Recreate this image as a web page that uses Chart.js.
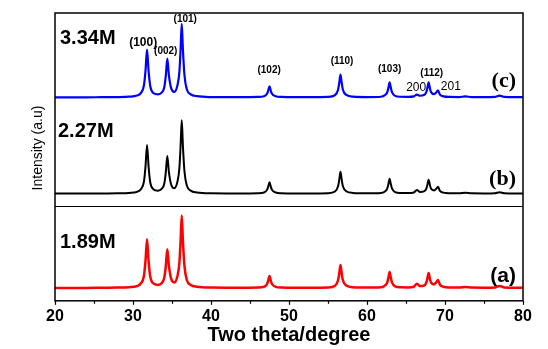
<!DOCTYPE html>
<html>
<head>
<meta charset="utf-8">
<script src="https://cdn.jsdelivr.net/npm/chart.js@4/dist/chart.umd.min.js"></script>
<style>
  html, body { margin: 0; padding: 0; background: #fff; }
  #wrap { width: 548px; height: 349px; position: relative; }
</style>
</head>
<body>
<div id="wrap"><canvas id="myChart" width="548" height="349"></canvas></div>
<script>
// 2 theta sample positions (degrees), shared by all three patterns
const twoTheta = [
    20, 22, 24, 26, 28, 29.5, 30.5, 31.0, 31.4, 31.6,
    31.8, 32.0, 32.2, 32.6, 33.2, 33.7, 34.0, 34.2, 34.4, 34.6,
    34.9, 35.3, 35.7, 35.95, 36.1, 36.25, 36.4, 36.6, 36.9, 37.4,
    38.2, 40, 42, 44, 46, 46.8, 47.2, 47.35, 47.5, 47.65,
    47.8, 48.3, 49, 51, 53, 55, 55.9, 56.3, 56.45, 56.6,
    56.75, 56.9, 57.4, 58.2, 60, 61.8, 62.4, 62.6, 62.75, 62.9,
    63.05, 63.2, 63.6, 64.3, 65.3, 66.0, 66.4, 66.8, 67.3, 67.6,
    67.75, 67.9, 68.05, 68.2, 68.6, 68.9, 69.1, 69.35, 69.8, 70.6,
    71.8, 72.6, 73.4, 75, 76.4, 77.0, 77.6, 79, 80
];

// intensities above each pattern's own baseline (a.u)
const intensity189 = [
    0, 0, 0, 0.2, 0.3, 0.7, 1.8, 4.4, 12, 27,
    49, 27, 12, 4.5, 3, 5, 10, 21.5, 39, 22.5,
    9, 5.5, 12, 25.5, 47, 73, 47, 22, 8, 3,
    1.2, 0.3, 0.2, 0.2, 0.4, 1.1, 4.2, 7.8, 12, 7.8,
    4.2, 1.1, 0.4, 0.2, 0.2, 0.4, 2.2, 8, 15, 23,
    15, 8, 2.2, 0.7, 0.3, 0.6, 3, 5.6, 10.4, 16,
    10.4, 5.6, 1.6, 0.6, 0.5, 1.2, 4.2, 1.8, 2.3, 5.2,
    9.8, 15, 9.8, 5.5, 3.5, 5.8, 8, 3.2, 1.1, 0.4,
    0.3, 1, 0.3, 0.2, 0.4, 2, 0.4, 0.2, 0.2
];
const intensity227 = [
    0, 0, 0, 0.2, 0.3, 0.7, 1.8, 4.4, 12, 27,
    49, 27, 12, 4.5, 3, 5, 9.7, 21, 38, 22,
    9, 5.5, 12.2, 26, 48, 74, 48, 22.3, 8.1, 3,
    1.2, 0.3, 0.2, 0.2, 0.4, 1.1, 4, 7.5, 11.5, 7.5,
    4, 1.1, 0.4, 0.2, 0.2, 0.4, 2.1, 7.7, 14.3, 22,
    14.3, 7.7, 2.1, 0.7, 0.3, 0.6, 2.8, 5.3, 9.8, 15,
    9.8, 5.3, 1.5, 0.6, 0.5, 1.1, 3.7, 1.7, 2.2, 4.9,
    9.1, 14, 9.1, 5.1, 3.2, 5.1, 7, 2.8, 1, 0.4,
    0.3, 1, 0.3, 0.2, 0.4, 1.5, 0.4, 0.2, 0.2
];
const intensity334 = [
    0, 0, 0, 0.2, 0.3, 0.7, 1.8, 4.3, 12, 26.4,
    48, 26.4, 12, 4.4, 3, 5, 10, 21.5, 39, 22.5,
    9, 5.5, 12.2, 26, 48, 74, 48, 22.3, 8.1, 3,
    1.2, 0.3, 0.2, 0.2, 0.4, 1.1, 3.9, 7.2, 11, 7.2,
    3.9, 1.1, 0.4, 0.2, 0.2, 0.4, 2.2, 8, 15, 23,
    15, 8, 2.2, 0.7, 0.3, 0.6, 2.8, 5.3, 9.8, 15,
    9.8, 5.3, 1.5, 0.6, 0.5, 1, 2.8, 1.6, 2.3, 5.2,
    9.8, 15, 9.8, 5.3, 3.2, 5.1, 7, 2.8, 1, 0.4,
    0.3, 1, 0.3, 0.2, 0.4, 1.8, 0.4, 0.2, 0.2
];

// vertical stacking offset of each pattern
const offsets = [13, 108, 205];
const sampleNames = ["1.89M", "2.27M", "3.34M"];
const panelTags = ["(a)", "(b)", "(c)"];

const xTicks = [20, 30, 40, 50, 60, 70, 80];

// hkl labels on the top pattern: [text, 2theta, level]
const peakLabels = [
    ["(100)", 31.3, 260],
    ["(002)", 34.2, 251.5],
    ["(101)", 36.7, 284],
    ["(102)", 47.45, 232],
    ["(110)", 56.8, 241],
    ["(103)", 62.9, 233],
    ["200", 66.3, 215],
    ["(112)", 68.3, 229],
    ["201", 70.75, 216]
];

function toPoints(values, offset) {
    return twoTheta.map((t, i) => ({ x: t, y: values[i] + offset }));
}

const decorations = {
    id: 'decorations',
    afterDraw(chart) {
        const ctx = chart.ctx;
        const area = chart.chartArea;
        const xs = chart.scales.x;
        const ys = chart.scales.y;
        ctx.save();

        // frame
        ctx.strokeStyle = '#000';
        ctx.lineWidth = 1.5;
        ctx.strokeRect(area.left, area.top, area.right - area.left, area.bottom - area.top);

        // separator between (a) and (b)
        const sepY = Math.round(ys.getPixelForValue(96)) + 0.5;
        ctx.lineWidth = 1.2;
        ctx.beginPath();
        ctx.moveTo(area.left, sepY);
        ctx.lineTo(area.right, sepY);
        ctx.stroke();

        // minor ticks
        ctx.lineWidth = 1.2;
        for (let t = 25; t < 80; t += 10) {
            const px = Math.round(xs.getPixelForValue(t)) + 0.5;
            ctx.beginPath();
            ctx.moveTo(px, area.bottom);
            ctx.lineTo(px, area.bottom + 3);
            ctx.stroke();
        }

        ctx.fillStyle = '#000';
        ctx.textBaseline = 'middle';

        // sample names
        ctx.textAlign = 'left';
        ctx.font = 'bold 20px "Liberation Sans", Arial, sans-serif';
        ctx.fillText(sampleNames[2], 60, 38);
        ctx.fillText(sampleNames[1], 58, 131);
        ctx.fillText(sampleNames[0], 60, 242);

        // panel tags
        ctx.textAlign = 'right';
        ctx.font = 'bold 22px "Liberation Serif", "Times New Roman", serif';
        ctx.fillText(panelTags[2], 516, 81);
        ctx.fillText(panelTags[1], 516, 179);
        ctx.font = 'bold 21px "Liberation Sans", Arial, sans-serif';
        ctx.fillText(panelTags[0], 516, 276);

        // hkl labels
        ctx.textAlign = 'center';
        peakLabels.forEach(([text, t, level]) => {
            if (text === "(100)") {
                ctx.font = 'bold 12px "Liberation Sans", Arial, sans-serif';
            } else if (text.charAt(0) === "(") {
                ctx.font = 'bold 10px "Liberation Sans", Arial, sans-serif';
            } else {
                ctx.font = '12px "Liberation Sans", Arial, sans-serif';
            }
            ctx.fillText(text, xs.getPixelForValue(t), ys.getPixelForValue(level));
        });

        // axis titles
        ctx.font = 'bold 20px "Liberation Sans", Arial, sans-serif';
        ctx.fillText("Two theta/degree", (area.left + area.right) / 2, 335);

        ctx.save();
        ctx.translate(38, 148);
        ctx.rotate(-Math.PI / 2);
        ctx.font = '14px "Liberation Sans", Arial, sans-serif';
        ctx.fillText("Intensity (a.u)", 0, 0);
        ctx.restore();

        ctx.restore();
    }
};

const ctx = document.getElementById("myChart").getContext("2d");

new Chart(ctx, {
    type: "line",
    data: {
        datasets: [
            {
                label: sampleNames[0],
                data: toPoints(intensity189, offsets[0]),
                borderColor: "#ff0000",
                borderWidth: 2.5,
            },
            {
                label: sampleNames[1],
                data: toPoints(intensity227, offsets[1]),
                borderColor: "#000000",
                borderWidth: 2,
            },
            {
                label: sampleNames[2],
                data: toPoints(intensity334, offsets[2]),
                borderColor: "#0000ff",
                borderWidth: 2.2,
            },
        ],
    },
    options: {
        responsive: false,
        animation: false,
        layout: {
            padding: { left: 55, right: 25, top: 13, bottom: 21 }
        },
        elements: {
            point: { radius: 0 },
            line: { cubicInterpolationMode: 'monotone', fill: false }
        },
        plugins: {
            legend: { display: false },
            tooltip: { enabled: false }
        },
        scales: {
            x: {
                type: 'linear',
                min: 20,
                max: 80,
                afterBuildTicks: (axis) => {
                    axis.ticks = xTicks.map(v => ({ value: v }));
                },
                border: { display: false },
                grid: {
                    drawOnChartArea: false,
                    tickLength: 4,
                    tickWidth: 1.2,
                    tickColor: '#000'
                },
                ticks: {
                    color: '#000',
                    padding: 2,
                    maxRotation: 0,
                    font: { family: '"Liberation Sans", Arial, sans-serif', size: 16, weight: 'bold' }
                }
            },
            y: {
                display: false,
                min: 0,
                max: 290
            }
        }
    },
    plugins: [decorations]
});
</script>
</body>
</html>
